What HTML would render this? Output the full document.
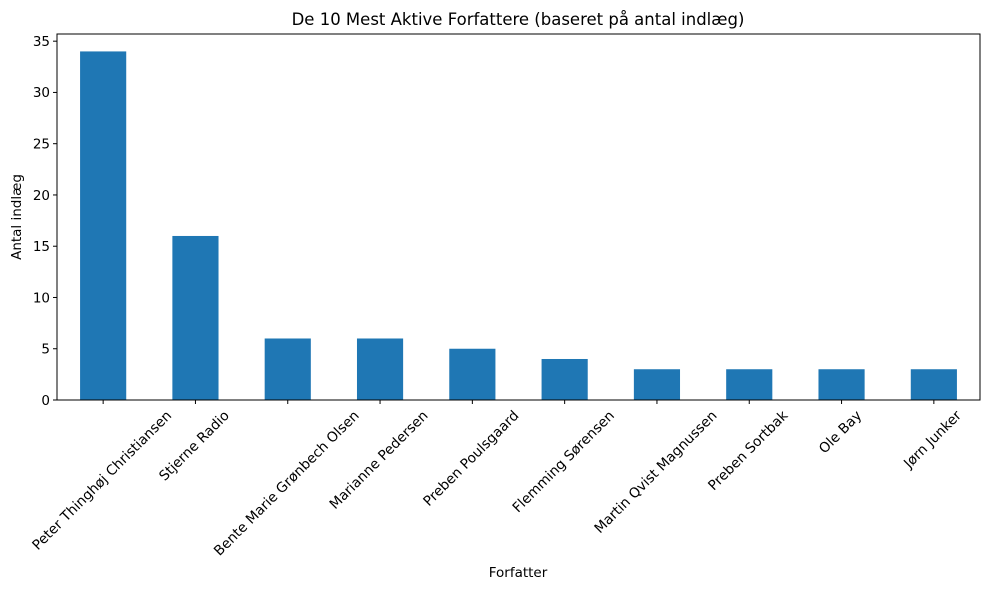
<!DOCTYPE html>
<html><head><meta charset="utf-8"><style>
body{margin:0;background:#fff}
text{font-family:"DejaVu Sans","Liberation Sans",sans-serif;fill:#000}
</style></head><body>
<svg id="chart" width="989" height="590" xmlns="http://www.w3.org/2000/svg">
<text x="518" y="25" font-size="16.5" text-anchor="middle">De 10 Mest Aktive Forfattere (baseret på antal indlæg)</text>
<g id="plot"></g>
<text x="518" y="577" font-size="13.5" text-anchor="middle">Forfatter</text>
<text transform="translate(21,217) rotate(-90)" font-size="13.5" text-anchor="middle">Antal indlæg</text>
</svg>
<script>
const categories=["Peter Thinghøj Christiansen","Stjerne Radio","Bente Marie Grønbech Olsen","Marianne Pedersen","Preben Poulsgaard","Flemming Sørensen","Martin Qvist Magnussen","Preben Sortbak","Ole Bay","Jørn Junker"];
const values=[34,16,6,6,5,4,3,3,3,3];
const yTicks=[0,5,10,15,20,25,30,35];
const L=57,R=980,T=34,B=400,yMax=35.7;
const ns="http://www.w3.org/2000/svg";
const g=document.getElementById('plot');
function y(v){return B-(v/yMax)*(B-T);}
const step=(R-L)/categories.length;
function x(i){return L+step*(i+0.5);}
function mk(t,a){const e=document.createElementNS(ns,t);for(const k in a)e.setAttribute(k,a[k]);g.appendChild(e);return e;}
values.forEach((v,i)=>{
 const r=mk('rect',{x:x(i)-step*0.25,y:y(v),width:step*0.5,height:B-y(v),fill:'#1f77b4'});
 
 
});
const frame=mk('rect',{x:L,y:T,width:R-L,height:B-T,fill:'none',stroke:'#000','stroke-width':1});


yTicks.forEach(t=>{
 mk('line',{x1:L-4,x2:L,y1:y(t),y2:y(t),stroke:'#000'});
 const tx=mk('text',{x:L-7,y:y(t)+4.8,'font-size':13.5,'text-anchor':'end'});
 tx.textContent=t;
 
 
});
categories.forEach((c,i)=>{
 mk('line',{x1:x(i),x2:x(i),y1:B,y2:B+4,stroke:'#000'});
 const tx=mk('text',{'font-size':13.8,'text-anchor':'middle'});
 tx.textContent=c;
 
 
 const len=tx.getComputedTextLength();
 const h=0.7071*(len+13.8);
 const cy=B+8+h/2;
 tx.setAttribute('transform',`translate(${x(i)-1.5},${cy}) rotate(-45) translate(0,4.8)`);
});
</script>
</body></html>
